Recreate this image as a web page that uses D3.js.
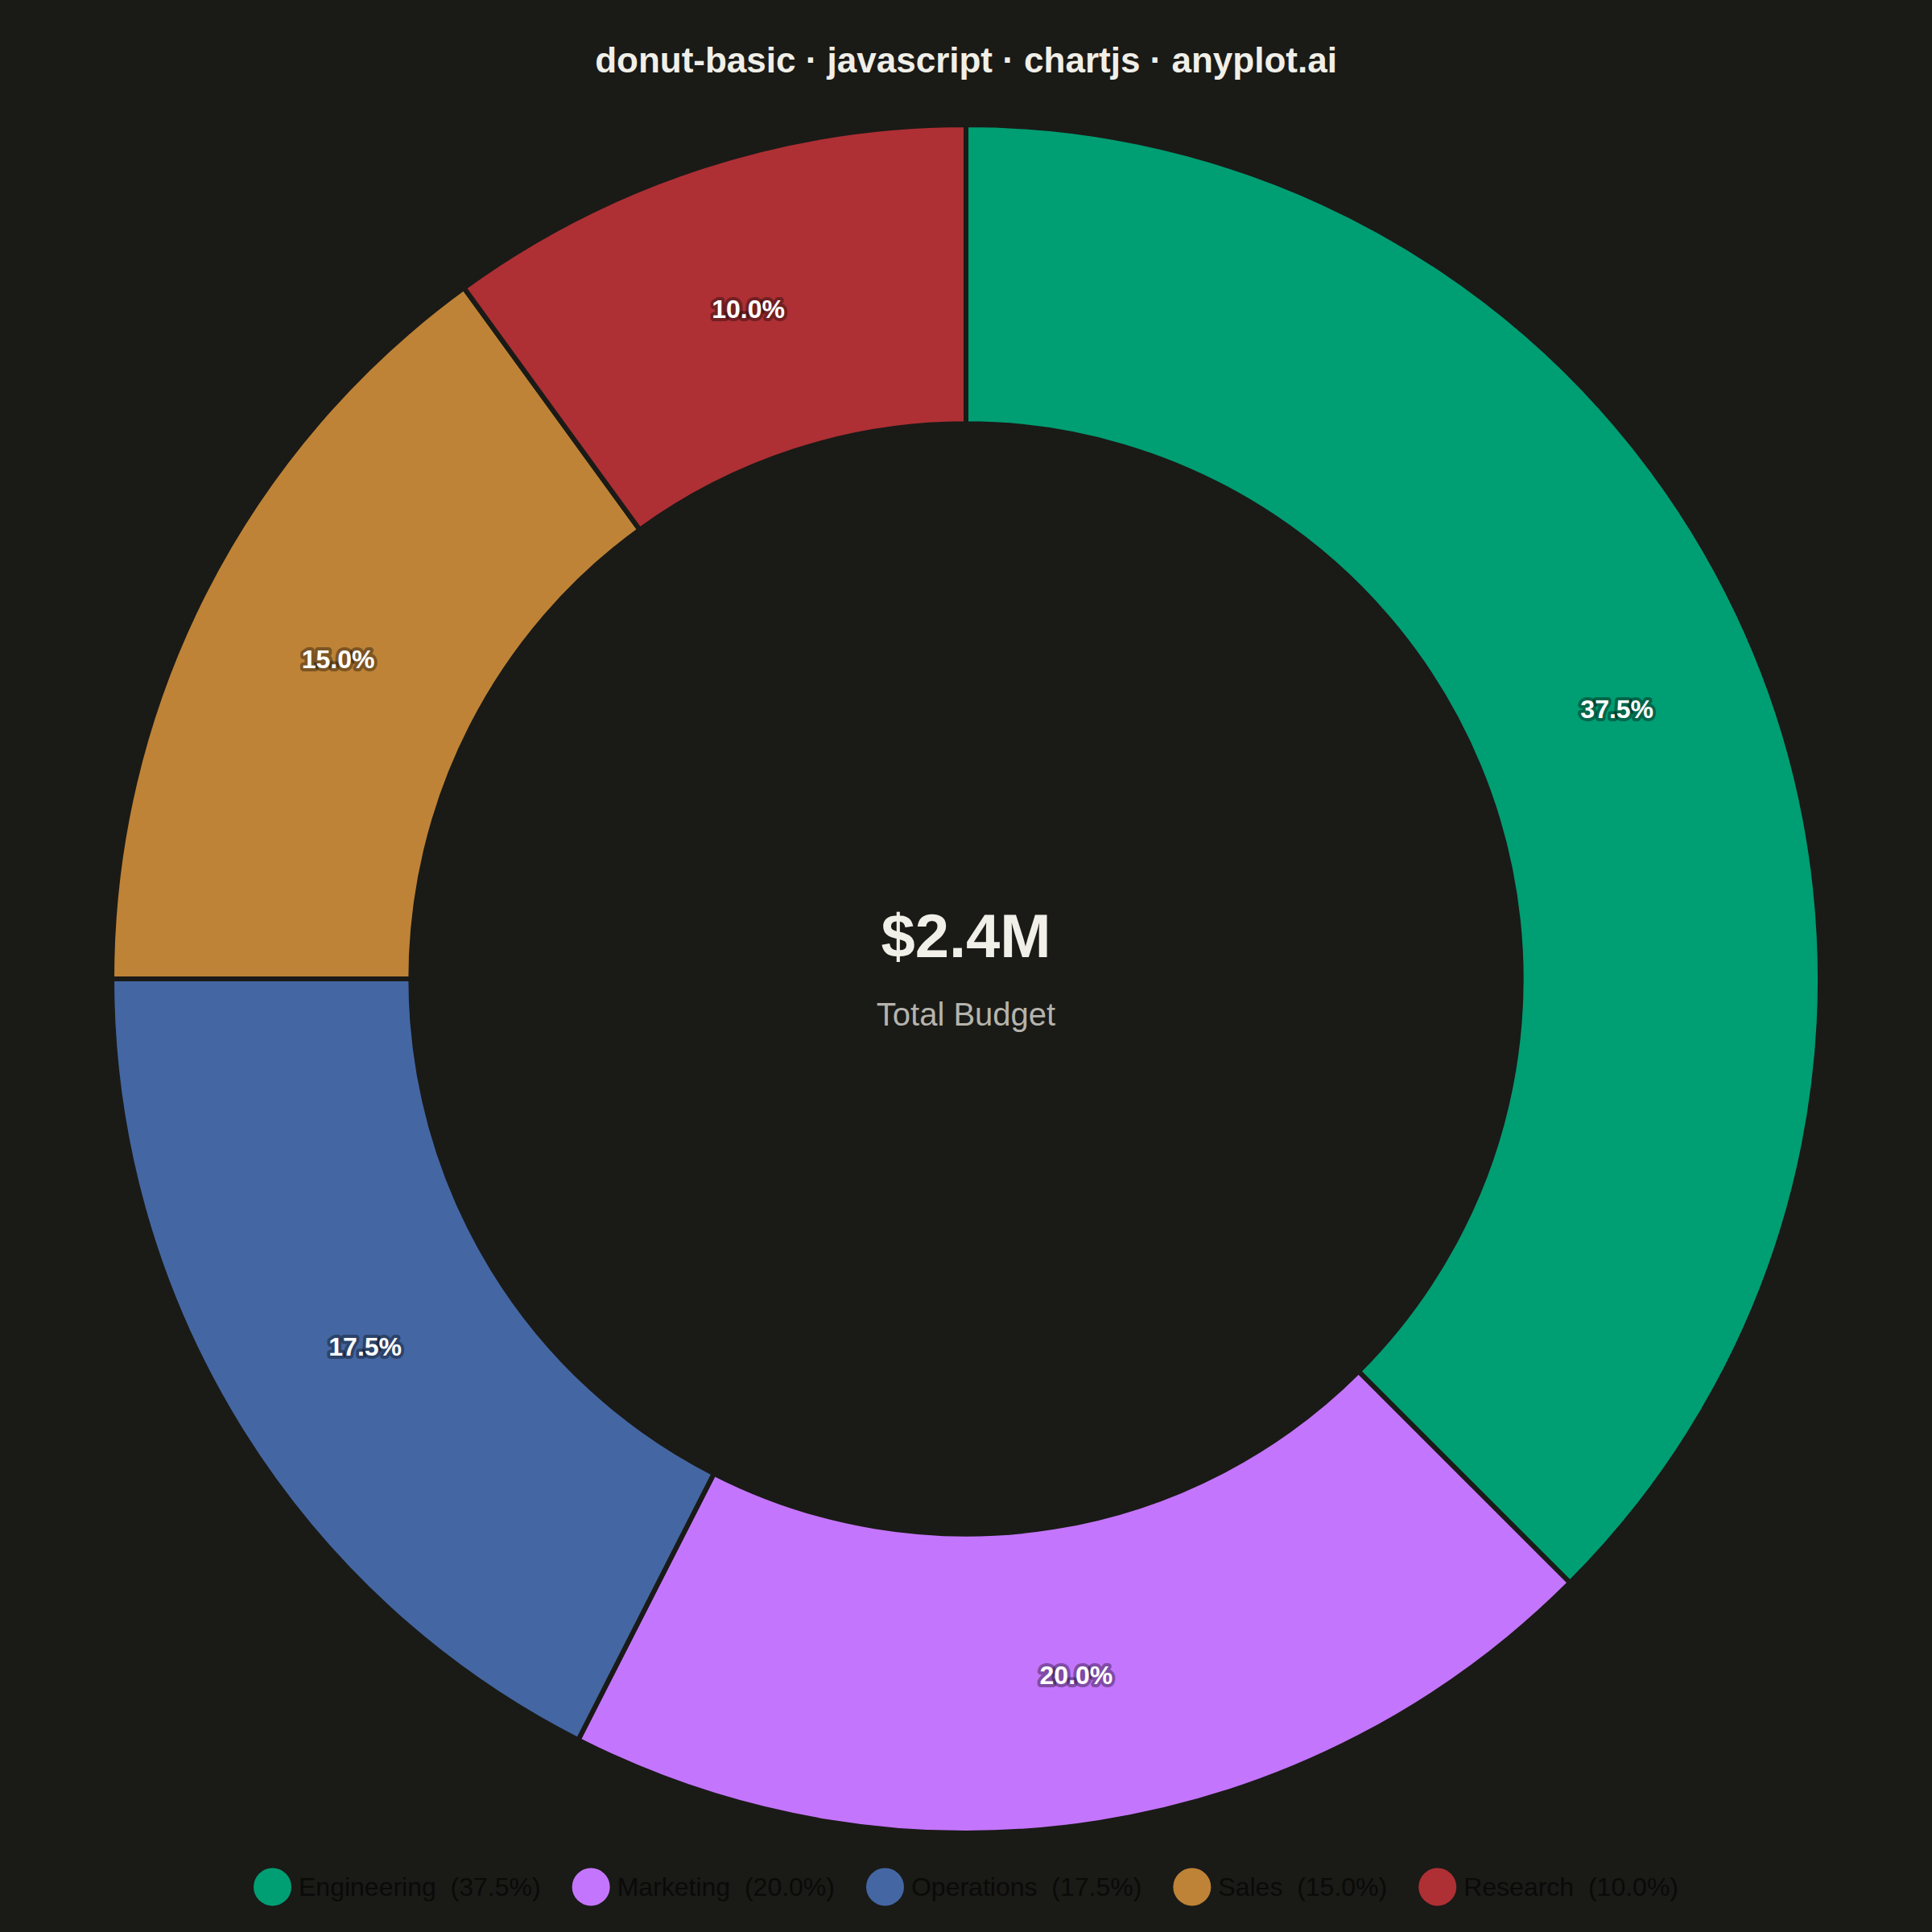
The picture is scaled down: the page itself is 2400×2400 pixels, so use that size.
<!DOCTYPE html>
<html>
<head>
<meta charset="utf-8">
<script src="https://cdn.jsdelivr.net/npm/d3@7/dist/d3.min.js"></script>
<style>
  html, body { margin: 0; padding: 0; background: #1a1a17; }
  svg { display: block; }
  text { font-family: "Liberation Sans", Arial, Helvetica, sans-serif; }
</style>
</head>
<body>
<svg id="chart" width="2400" height="2400"></svg>
<script>
// ---- data ----
const categories = ["Engineering", "Marketing", "Operations", "Sales", "Research"];
const values = [900000, 480000, 420000, 360000, 240000];
const colors = ["#009E73", "#C475FD", "#4467A3", "#BE8336", "#AE3034"];
const titleText = "donut-basic · javascript · chartjs · anyplot.ai";
const centerValue = "$2.4M";
const centerLabel = "Total Budget";

// ---- layout ----
const W = 2400, H = 2400;
const bg = "#1a1a17";
const cx = 1200, cy = 1216;
const outerR = 1061;
const innerR = outerR * 0.65;

const svg = d3.select("#chart");
svg.append("rect").attr("width", W).attr("height", H).attr("fill", bg);

// title
svg.append("text")
  .attr("x", W / 2).attr("y", 90)
  .attr("text-anchor", "middle")
  .attr("font-size", 44).attr("font-weight", "bold")
  .attr("fill", "#F0EFE8")
  .text(titleText);

const total = d3.sum(values);
const data = categories.map((c, i) => ({ name: c, value: values[i], color: colors[i] }));

const pie = d3.pie().value(d => d.value).sort(null);
const arcs = pie(data);
const arc = d3.arc().innerRadius(innerR).outerRadius(outerR);
const labelArc = d3.arc().innerRadius((innerR + outerR) / 2).outerRadius((innerR + outerR) / 2);

const g = svg.append("g").attr("transform", `translate(${cx},${cy})`);

g.selectAll("path.slice").data(arcs).join("path")
  .attr("class", "slice")
  .attr("d", arc)
  .attr("fill", d => d.data.color)
  .attr("stroke", bg)
  .attr("stroke-width", 6)
  .attr("stroke-linejoin", "miter");

const fmtPct = v => (v / total * 100).toFixed(1) + "%";

g.selectAll("text.pct").data(arcs).join("text")
  .attr("class", "pct")
  .attr("transform", d => `translate(${labelArc.centroid(d)})`)
  .attr("text-anchor", "middle")
  .attr("dominant-baseline", "central")
  .attr("font-size", 32).attr("font-weight", "bold")
  .attr("fill", "#ffffff")
  .attr("stroke", "rgba(0,0,0,0.35)")
  .attr("stroke-width", 8)
  .attr("stroke-linejoin", "round")
  .attr("paint-order", "stroke")
  .text(d => fmtPct(d.data.value));

// center text
svg.append("text")
  .attr("x", cx).attr("y", 1189)
  .attr("text-anchor", "middle")
  .attr("font-size", 76).attr("font-weight", "bold")
  .attr("fill", "#F0EFE8")
  .text(centerValue);
svg.append("text")
  .attr("x", cx).attr("y", 1274)
  .attr("text-anchor", "middle")
  .attr("font-size", 40)
  .attr("fill", "#B5B4AC")
  .text(centerLabel);

// legend
const legendY = 2344;
const boxR = 23.5;
const textGap = 9;
const itemGap = 39;
const legend = svg.append("g");
const items = legend.selectAll("g.item").data(data).join("g").attr("class", "item");
items.append("circle")
  .attr("cx", boxR).attr("cy", 0).attr("r", boxR)
  .attr("fill", d => d.color);
items.append("text")
  .attr("x", boxR * 2 + textGap).attr("y", 0)
  .attr("dominant-baseline", "central")
  .attr("font-size", 32)
  .attr("fill", "#0a0a09")
  .style("white-space", "pre")
  .attr("xml:space", "preserve")
  .text(d => `${d.name}  (${fmtPct(d.value)})`);

const widths = [];
items.each(function () {
  const t = d3.select(this).select("text").node();
  widths.push(boxR * 2 + textGap + t.getComputedTextLength());
});
const totalW = d3.sum(widths) + itemGap * (widths.length - 1);
let x0 = (W - totalW) / 2;
items.attr("transform", (d, i) => {
  const x = x0;
  x0 += widths[i] + itemGap;
  return `translate(${x},${legendY})`;
});
</script>
</body>
</html>
